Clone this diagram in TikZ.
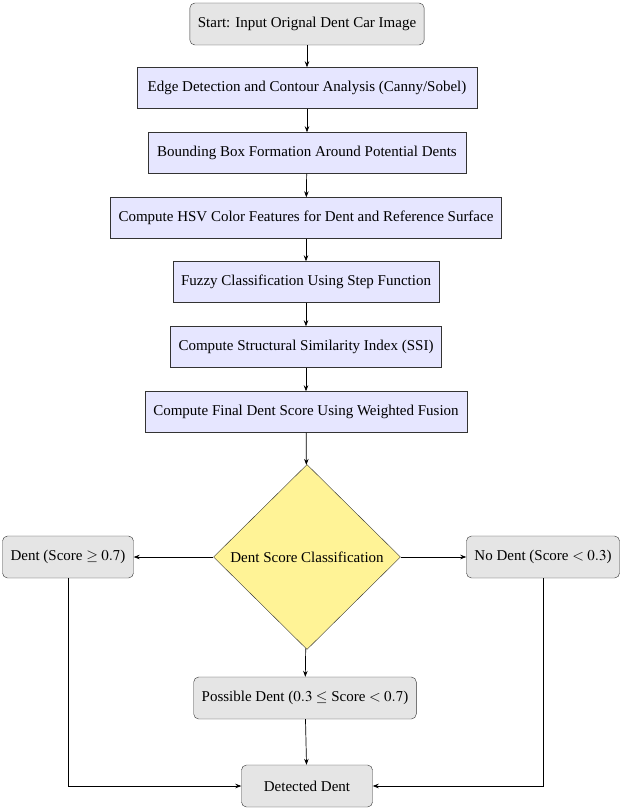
\documentclass[tikz,border=0pt]{standalone}
\usepackage{mathptmx}
\usepackage[no-math]{fontspec}
\setmainfont{Liberation Serif}
\usetikzlibrary{shapes.geometric,arrows.meta}
\definecolor{boxgray}{RGB}{229,229,229}
\definecolor{boxblue}{RGB}{230,230,255}
\definecolor{diayellow}{RGB}{255,243,150}
\begin{document}
\begin{tikzpicture}[x=1pt,y=-1pt,
  every node/.style={font=\fontsize{15}{18}\selectfont},
  termbox/.style={draw=black!80, fill=boxgray, rounded corners=5pt, minimum height=42pt, inner xsep=8pt},
  procbox/.style={draw=black!80, fill=boxblue, minimum height=41pt, inner xsep=8pt},
  decbox/.style={draw=black!80, fill=diayellow, diamond, minimum width=187pt, minimum height=185pt, inner sep=0pt},
  arr/.style={-{Stealth[length=6pt,width=4.5pt]}, draw=black, line width=0.7pt}]
\useasboundingbox (0,0) rectangle (622,810);
\node[termbox, minimum width=232pt] (start) at (307,24) {Start: Input Orignal Dent Car Image};
\node[procbox, minimum width=340pt] (edge) at (307,88) {Edge Detection and Contour Analysis (Canny/Sobel)};
\node[procbox, minimum width=318pt] (bbox) at (307,153) {Bounding Box Formation Around Potential Dents};
\node[procbox, minimum width=390pt] (hsv) at (306,218) {Compute HSV Color Features for Dent and Reference Surface};
\node[procbox, minimum width=265pt] (fuzzy) at (306,282) {Fuzzy Classification Using Step Function};
\node[procbox, minimum width=269pt] (ssi) at (306,347) {Compute Structural Similarity Index (SSI)};
\node[procbox, minimum width=321pt] (final) at (306,412) {Compute Final Dent Score Using Weighted Fusion};
\node[decbox] (class) at (307,557) {Dent Score Classification};
\node[termbox, minimum width=130pt] (dent) at (68,557) {Dent (Score $\geq 0.7$)};
\node[termbox, minimum width=148pt] (nodent) at (543,557) {No Dent (Score $< 0.3$)};
\node[termbox, minimum width=220pt] (poss) at (305,698) {Possible Dent ($0.3 \leq$ Score $< 0.7$)};
\node[termbox, minimum width=131pt] (det) at (307,786) {Detected Dent};
\draw[arr] (start) -- (edge);
\draw[arr] (edge) -- (bbox);
\draw[arr] (bbox) -- (hsv);
\draw[arr] (hsv) -- (fuzzy);
\draw[arr] (fuzzy) -- (ssi);
\draw[arr] (ssi) -- (final);
\draw[arr] (final) -- (class);
\draw[arr] (class) -- (dent);
\draw[arr] (class) -- (nodent);
\draw[arr] (class) -- (poss);
\draw[arr] (poss) -- (det);
\draw[arr] (dent) |- (det);
\draw[arr] (nodent) |- (det);
\end{tikzpicture}
\end{document}
